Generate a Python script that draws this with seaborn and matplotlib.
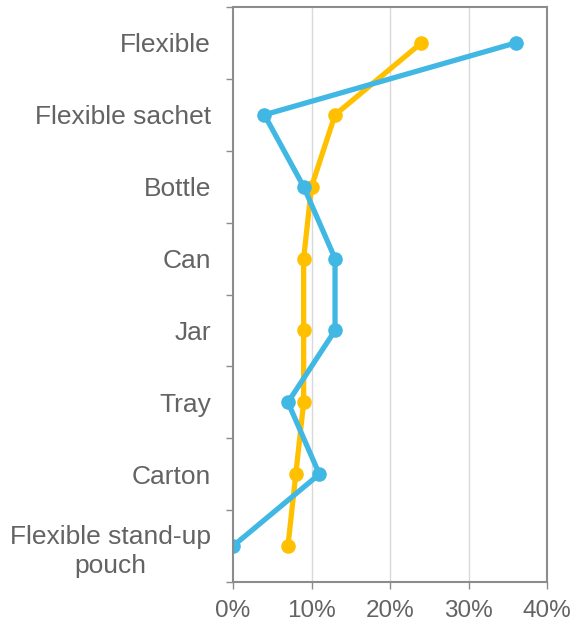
import numpy as np
import pandas as pd
import matplotlib
matplotlib.use("Agg")
import matplotlib.pyplot as plt
import seaborn as sns
from matplotlib.ticker import FixedLocator, PercentFormatter

categories = ["Flexible", "Flexible sachet", "Bottle", "Can", "Jar", "Tray",
              "Carton", "Flexible stand-up\npouch"]
series_yellow = [24, 13, 10, 9, 9, 9, 8, 7]
series_blue = [36, 4, 9, 13, 13, 7, 11, 0]
x_ticks = [0, 10, 20, 30, 40]

sns.set_theme(style="white")
plt.rcParams["font.family"] = ["Liberation Sans", "DejaVu Sans"]

pos = np.arange(len(categories))
df = pd.concat([
    pd.DataFrame({"pos": pos, "share": series_yellow, "series": "yellow"}),
    pd.DataFrame({"pos": pos, "share": series_blue, "series": "blue"}),
])

fig = plt.figure(figsize=(5.74, 6.27), dpi=100)
ax = fig.add_axes([233 / 574, 45 / 627, (547 - 233) / 574, (620 - 45) / 627])

palette = {"yellow": "#FFC000", "blue": "#41B8E4"}
sns.lineplot(data=df, x="share", y="pos", hue="series", palette=palette,
             orient="y", sort=False, marker="o", markersize=10.5,
             markeredgewidth=0, linewidth=3.8, legend=False, ax=ax)

ax.set_xlim(0, 40)
ax.set_ylim(len(categories) - 0.5, -0.5)
ax.set_xlabel("")
ax.set_ylabel("")

ax.set_xticks(x_ticks)
ax.xaxis.set_major_formatter(PercentFormatter(decimals=0))
ax.set_yticks(pos)
ax.set_yticklabels(categories, ha="right", multialignment="center",
                   linespacing=1.3)
ax.yaxis.set_minor_locator(FixedLocator(np.arange(-0.5, len(categories), 1)))

text_color = "#636363"
spine_color = "#8C8C8C"
ax.tick_params(axis="y", which="major", length=0, pad=16, labelsize=19,
               labelcolor=text_color)
ax.tick_params(axis="y", which="minor", length=5, width=1, color=spine_color,
               direction="out", left=True)
ax.tick_params(axis="x", which="major", length=5, width=1, color=spine_color,
               direction="out", bottom=True, pad=8, labelsize=17.5,
               labelcolor=text_color)

ax.grid(False)
for x in x_ticks[1:-1]:
    ax.axvline(x, color="#D9D9D9", linewidth=1, zorder=0)

for side in ["left", "right", "top", "bottom"]:
    ax.spines[side].set_visible(True)
    ax.spines[side].set_color(spine_color)
    ax.spines[side].set_linewidth(1.5)

fig.savefig("out.png", dpi=100)
